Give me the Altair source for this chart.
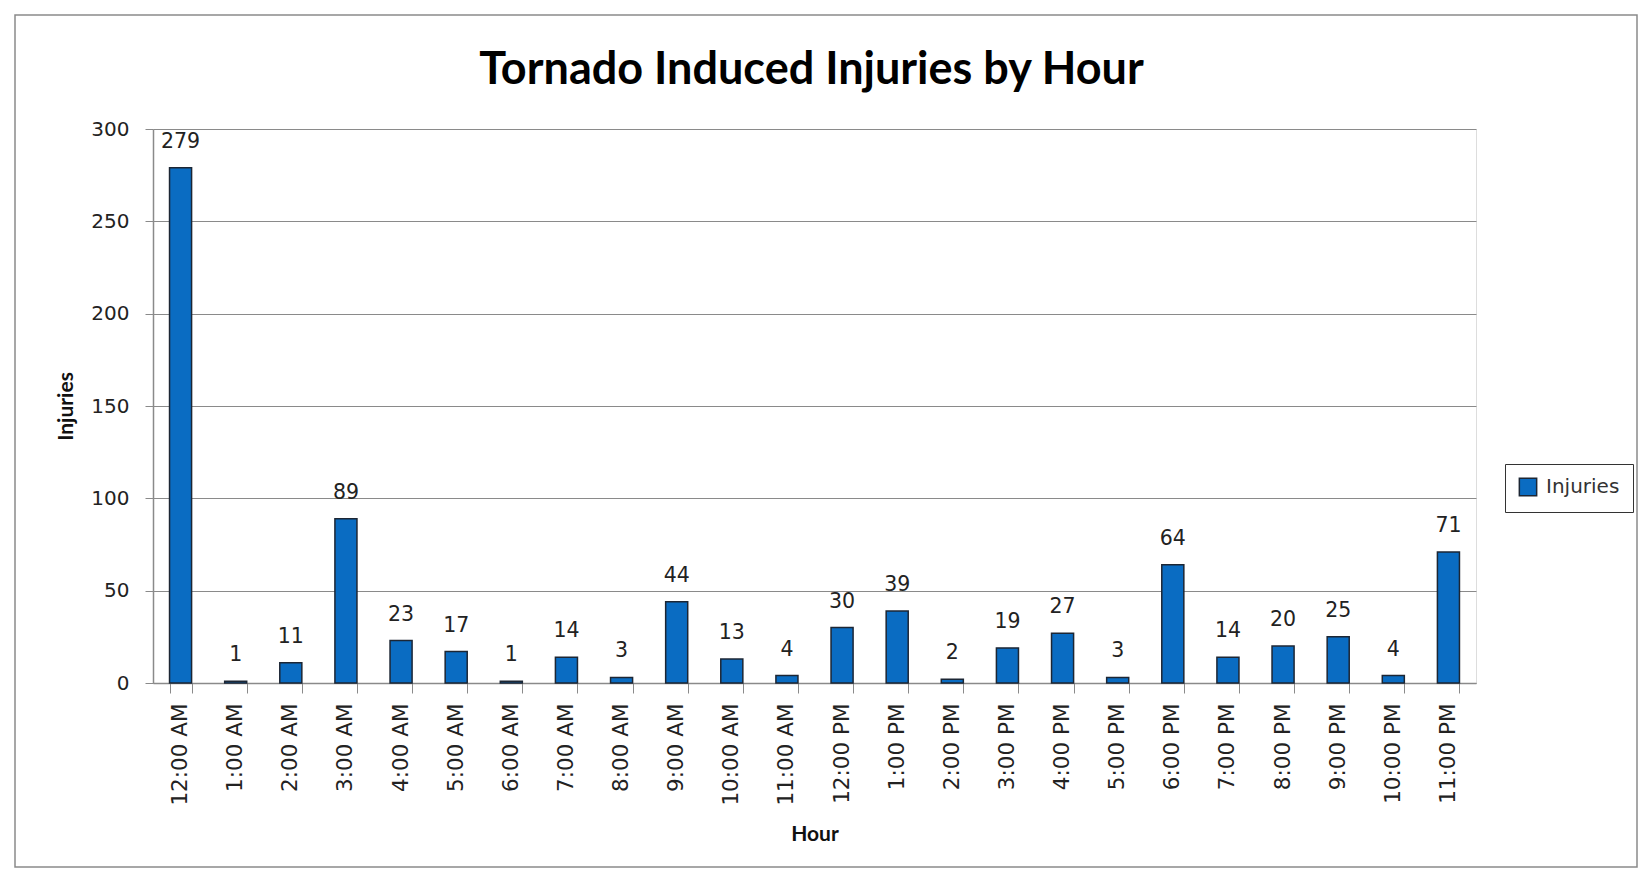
import altair as alt
import pandas as pd

hours = ["12:00 AM", "1:00 AM", "2:00 AM", "3:00 AM", "4:00 AM", "5:00 AM",
         "6:00 AM", "7:00 AM", "8:00 AM", "9:00 AM", "10:00 AM", "11:00 AM",
         "12:00 PM", "1:00 PM", "2:00 PM", "3:00 PM", "4:00 PM", "5:00 PM",
         "6:00 PM", "7:00 PM", "8:00 PM", "9:00 PM", "10:00 PM", "11:00 PM"]
injuries = [279, 1, 11, 89, 23, 17, 1, 14, 3, 44, 13, 4,
            30, 39, 2, 19, 27, 3, 64, 14, 20, 25, 4, 71]
series = ["Injuries"] * len(hours)
y_ticks = [0, 50, 100, 150, 200, 250, 300]
title_text = ["Tornado Induced Injuries by Hour"]

df = pd.DataFrame({"Hour": hours, "Injuries": injuries, "Series": series})
title_df = pd.DataFrame({"t": title_text})

W, H = 1323, 554
LABEL_FONT = "DejaVu Sans"
BOLD_FONT = "Lato"

x_enc = alt.X(
    "Hour:N", sort=hours,
    scale=alt.Scale(paddingInner=0.6, paddingOuter=0.3),
    axis=alt.Axis(
        title="Hour", labelAngle=-90, labelFont=LABEL_FONT, labelFontSize=21.5,
        labelColor="#222222", labelPadding=10, tickSize=10, tickColor="#8a8a8a",
        tickBand="extent", domainColor="#8a8a8a", domainWidth=1.5, grid=False,
        titleFont=BOLD_FONT, titleFontSize=21, titleFontWeight="bold",
        titleColor="#111111", titlePadding=18,
    ),
)
y_enc = alt.Y(
    "Injuries:Q",
    scale=alt.Scale(domain=[0, 300], nice=False),
    axis=alt.Axis(
        title="Injuries", values=y_ticks, labelFont=LABEL_FONT, labelFontSize=20,
        labelColor="#222222", labelPadding=16, tickSize=8, tickColor="#8a8a8a",
        domainColor="#8a8a8a", domainWidth=1.5, gridColor="#8a8a8a", gridWidth=1,
        titleFont=BOLD_FONT, titleFontSize=21, titleFontWeight="bold",
        titleColor="#111111", titlePadding=14,
    ),
)

frame = alt.Chart(title_df).mark_rect(
    filled=False, stroke="#8a8a8a", strokeWidth=1.5, clip=False
).encode(
    x=alt.value(-138), x2=alt.value(1484), y=alt.value(-114), y2=alt.value(738)
)

title = alt.Chart(title_df).mark_text(
    font=BOLD_FONT, fontSize=45, fontWeight="bold", color="#000000",
    align="center", baseline="alphabetic"
).encode(
    text="t:N", x=alt.value(W / 2 - 3), y=alt.value(-45)
)

bars = alt.Chart(df).mark_bar(stroke="#1c2634", strokeWidth=1.5).encode(
    x=x_enc,
    y=y_enc,
    color=alt.Color(
        "Series:N",
        scale=alt.Scale(domain=["Injuries"], range=["#0a6cc2"]),
        legend=alt.Legend(
            title=None, orient="none", legendX=1352, legendY=335,
            symbolType="square", symbolSize=300, symbolStrokeColor="#1c2634",
            symbolStrokeWidth=1.5, labelFont=LABEL_FONT, labelFontSize=20,
            labelColor="#333333", padding=13, strokeColor="#333333",
            fillColor="white", labelOffset=8,
        ),
    ),
)

labels = alt.Chart(df).mark_text(
    dy=-20, baseline="alphabetic", align="center", font=LABEL_FONT,
    fontSize=20.5, color="#222222"
).encode(
    x=alt.X("Hour:N", sort=hours),
    y=alt.Y("Injuries:Q"),
    text=alt.Text("Injuries:Q"),
)

chart = alt.layer(frame, title, bars, labels).properties(
    width=W, height=H,
    padding={"left": 6, "top": 6, "right": 0, "bottom": 0},
).configure_view(
    stroke="#3a3a3a", strokeWidth=1.5
).configure(background="white")

chart.save("out.html", embed_options={"renderer": "svg", "actions": False})
